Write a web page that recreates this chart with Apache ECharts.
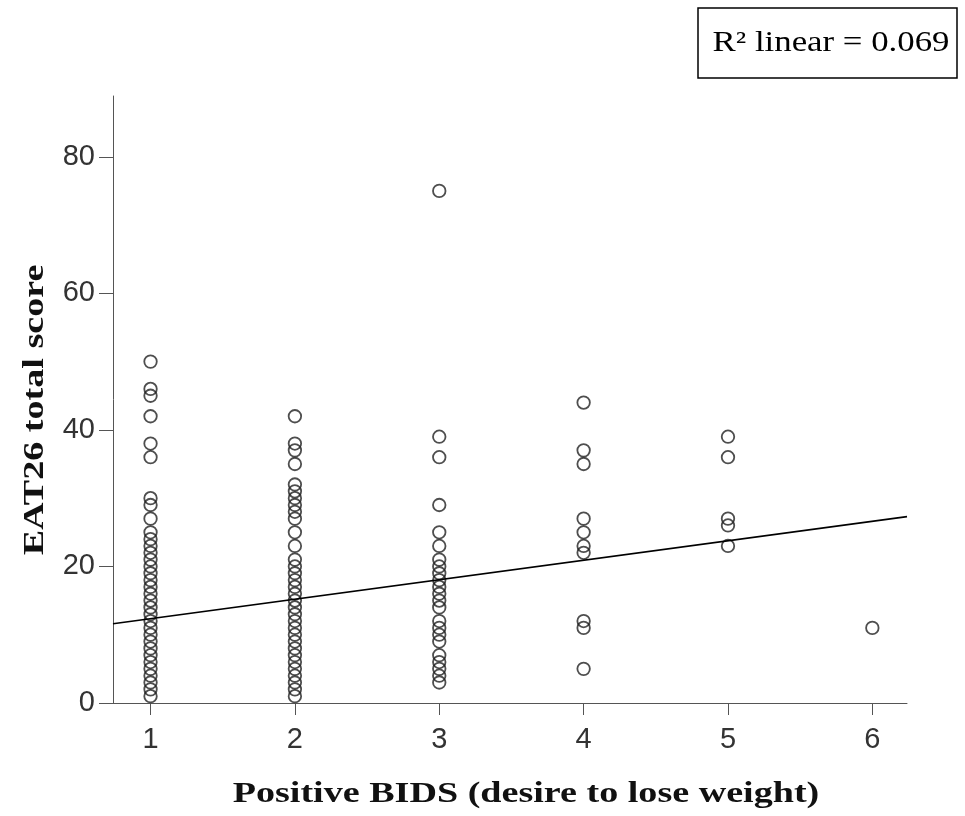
<!DOCTYPE html>
<html>
<head>
<meta charset="utf-8">
<title>EAT26 vs Positive BIDS</title>
<script src="https://cdn.jsdelivr.net/npm/echarts@6/dist/echarts.min.js"></script>
<style>
  html, body { margin: 0; padding: 0; background: #fff; }
  #chart { width: 965px; height: 816px; }
</style>
</head>
<body>
<div id="chart"></div>
<script>
// x categories (BIDS score) and the EAT26 scores
const bidsLevels = [1, 2, 3, 4, 5, 6];
const scoresBids1 = [1, 2, 3, 4, 5, 6, 7, 8, 9, 10, 11, 12, 13, 14, 15, 16, 17, 18, 19, 20, 21, 22, 23, 24, 25, 27, 29, 30, 36, 38, 42, 45, 46, 50];
const scoresBids2 = [1, 2, 3, 4, 5, 6, 7, 8, 9, 10, 11, 12, 13, 14, 15, 16, 17, 18, 19, 20, 21, 23, 25, 27, 28, 29, 30, 31, 32, 35, 37, 38, 42];
const scoresBids3 = [3, 4, 5, 6, 7, 9, 10, 11, 12, 14, 15, 16, 17, 18, 19, 20, 21, 23, 25, 29, 36, 39, 75];
const scoresBids4 = [5, 11, 12, 22, 23, 25, 27, 35, 37, 44];
const scoresBids5 = [23, 26, 27, 36, 39];
const scoresBids6 = [11];

// fit line end points (as drawn in the picture)
const fitX = [0.74, 6.24];
const fitY = [11.6, 27.3];

const xTicks = [1, 2, 3, 4, 5, 6];
const yTicks = [0, 20, 40, 60, 80];
const r2Text = 'R\u00b2 linear = 0.069';

const columns = [scoresBids1, scoresBids2, scoresBids3, scoresBids4, scoresBids5, scoresBids6];
const points = [];
columns.forEach((scores, i) => {
    scores.forEach(s => points.push([bidsLevels[i], s]));
});

const tickFont = "'Liberation Sans', Arial, sans-serif";
const titleFont = "'Liberation Serif', 'Times New Roman', serif";

const chart = echarts.init(document.getElementById('chart'));
chart.setOption({
    backgroundColor: '#fff',
    animation: false,
    grid: { left: 113, right: 58, top: 96, bottom: 113 },
    xAxis: {
        type: 'value',
        min: fitX[0],
        max: fitX[1],
        splitLine: { show: false },
        axisLine: { lineStyle: { color: '#555', width: 1 } },
        axisTick: { show: true, length: 12, customValues: xTicks, lineStyle: { color: '#555' } },
        axisLabel: { customValues: xTicks, margin: 22, color: '#333', fontSize: 29, fontFamily: tickFont }
    },
    yAxis: {
        type: 'value',
        min: 0,
        max: 88.9,
        splitLine: { show: false },
        axisLine: { show: true, lineStyle: { color: '#555', width: 1 } },
        axisTick: { show: true, length: 14, customValues: yTicks, lineStyle: { color: '#555' } },
        axisLabel: { customValues: yTicks, margin: 18, color: '#333', fontSize: 29, fontFamily: tickFont }
    },
    graphic: [
        {
            type: 'rect',
            shape: { x: 698, y: 8, width: 259, height: 70 },
            style: { fill: '#fff', stroke: '#000', lineWidth: 1.5 }
        },
        {
            type: 'text',
            x: 831, y: 43,
            scaleX: 1.2,
            style: { text: r2Text, font: '29px ' + titleFont, fill: '#000', align: 'center', verticalAlign: 'middle' }
        },
        {
            type: 'text',
            x: 526, y: 794,
            scaleX: 1.27,
            style: { text: 'Positive BIDS (desire to lose weight)', font: 'bold 30px ' + titleFont, fill: '#111', align: 'center', verticalAlign: 'middle' }
        },
        {
            type: 'text',
            x: 35, y: 410,
            rotation: Math.PI / 2,
            scaleX: 1.27,
            style: { text: 'EAT26 total score', font: 'bold 30px ' + titleFont, fill: '#111', align: 'center', verticalAlign: 'middle' }
        }
    ],
    series: [
        {
            type: 'scatter',
            data: points,
            symbol: 'circle',
            symbolSize: 12.5,
            itemStyle: { color: 'transparent', borderColor: '#222', borderWidth: 1.8 }
        },
        {
            type: 'line',
            data: [[fitX[0], fitY[0]], [fitX[1], fitY[1]]],
            symbol: 'none',
            lineStyle: { color: '#000', width: 1.6 }
        }
    ]
});
</script>
</body>
</html>
